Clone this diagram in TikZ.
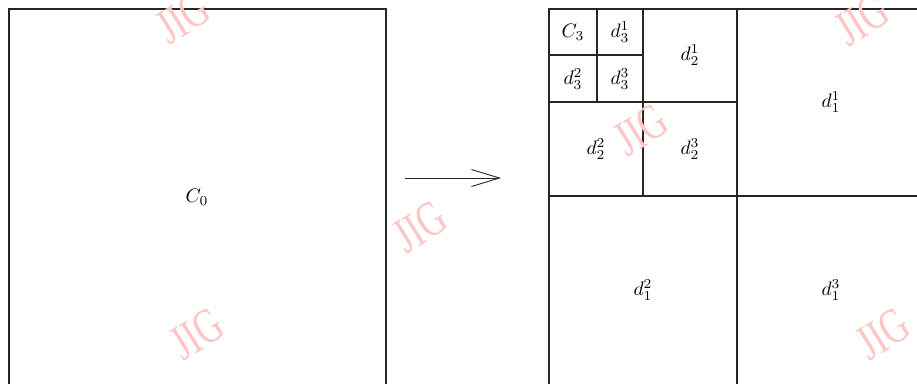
\documentclass[tikz,border=0pt]{standalone}
\usepackage{fontspec}
\newfontfamily\markfont{Liberation Serif}
\usetikzlibrary{arrows.meta}
\definecolor{markpink}{RGB}{255,196,196}
\newcommand\wmtext{\scalebox{0.72}[1]{JIG}}
\begin{document}
\begin{tikzpicture}[x=1pt,y=-1pt,
  frame/.style={draw=black!85,line width=1.1pt},
  cell/.style={scale=1.95},
  wmark/.style={text=markpink,rotate=32,font=\markfont\fontsize{50}{50}\selectfont,inner sep=0pt}]
\useasboundingbox (0,0) rectangle (917,383);
\clip (0,0) rectangle (917,383);

% original block
\draw[frame] (9,9) rectangle (386,386);
\node[cell] (c0) at (197,197) {$C_0$};

% decomposed block: three levels of quadrants
\draw[frame] (549,9) rectangle (925,385);
\draw[frame] (737,9) -- (737,385);
\draw[frame] (549,196) -- (925,196);
\draw[frame] (643,9) -- (643,196);
\draw[frame] (549,102) -- (737,102);
\draw[frame] (597,9) -- (597,102);
\draw[frame] (549,55) -- (643,55);

\node[cell] (c3)  at (573,32)  {$C_3$};
\node[cell] (d31) at (620,32)  {$d_3^1$};
\node[cell] (d32) at (573,79)  {$d_3^2$};
\node[cell] (d33) at (620,79)  {$d_3^3$};
\node[cell] (d21) at (690,55)  {$d_2^1$};
\node[cell] (d22) at (596,149) {$d_2^2$};
\node[cell] (d23) at (690,149) {$d_2^3$};
\node[cell] (d11) at (831,102) {$d_1^1$};
\node[cell] (d12) at (643,290) {$d_1^2$};
\node[cell] (d13) at (831,290) {$d_1^3$};

% transform arrow
\coordinate (a0) at (405,178);
\coordinate (a1) at (501,178);
\draw[line width=0.9pt,black!85,-{Straight Barb[length=28pt,width=17pt,line width=0.9pt]}] (a0) -- (a1);

% watermarks
\node[wmark] (w1) at (183,18)  {\wmtext};
\node[wmark] (w2) at (420,227) {\wmtext};
\node[wmark] (w3) at (197,334) {\wmtext};
\node[wmark] (w4) at (641,130) {\wmtext};
\node[wmark] (w5) at (862,20)  {\wmtext};
\node[wmark] (w6) at (883,334) {\wmtext};
\end{tikzpicture}
\end{document}
